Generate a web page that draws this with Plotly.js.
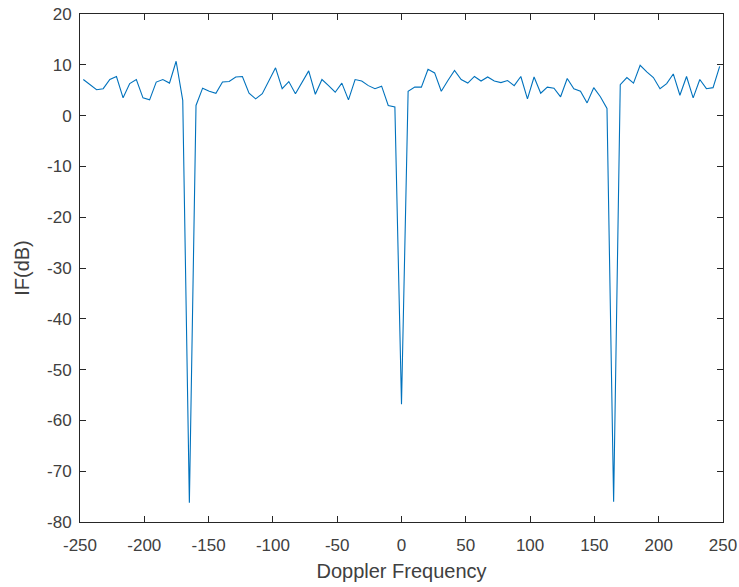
<!DOCTYPE html>
<html>
<head>
<meta charset="utf-8">
<script src="https://cdn.plot.ly/plotly-3.0.1.min.js"></script>
<style>html,body{margin:0;padding:0;background:#fff;}#chart{width:739px;height:587px;}</style>
</head>
<body>
<div id="chart"></div>
<script>
var dopplerFreq = [
  -247.42, -242.27, -237.11, -231.96, -226.80, -221.65, -216.49, -211.34, -206.19, -201.03,
  -195.88, -190.72, -185.57, -180.41, -175.26, -170.10, -164.95, -159.79, -154.64, -149.48,
  -144.33, -139.18, -134.02, -128.87, -123.71, -118.56, -113.40, -108.25, -103.09, -97.94,
  -92.78, -87.63, -82.47, -77.32, -72.16, -67.01, -61.86, -56.70, -51.55, -46.39,
  -41.24, -36.08, -30.93, -25.77, -20.62, -15.46, -10.31, -5.15, 0,
  5.15, 10.31, 15.46, 20.62, 25.77, 30.93, 36.08, 41.24, 46.39, 51.55,
  56.70, 61.86, 67.01, 72.16, 77.32, 82.47, 87.63, 92.78, 97.94, 103.09,
  108.25, 113.40, 118.56, 123.71, 128.87, 134.02, 139.18, 144.33, 149.48, 154.64,
  159.79, 164.95, 170.10, 175.26, 180.41, 185.57, 190.72, 195.88, 201.03, 206.19,
  211.34, 216.49, 221.65, 226.80, 231.96, 237.11, 242.27, 247.42
];
var improvementFactor = [
  7.1, 6.1, 5.1, 5.3, 7.1, 7.7, 3.5, 6.3, 7.1, 3.5,
  3.1, 6.6, 7.1, 6.4, 10.7, 3.0, -76.2, 2.0, 5.4, 4.8,
  4.4, 6.6, 6.7, 7.6, 7.7, 4.4, 3.3, 4.3, 6.8, 9.4,
  5.3, 6.7, 4.3, 6.6, 8.8, 4.2, 7.1, 5.9, 4.6, 6.4,
  3.1, 7.1, 6.8, 5.9, 5.3, 5.8, 2.0, 1.7, -56.8,
  4.8, 5.6, 5.6, 9.1, 8.4, 4.8, 6.9, 8.9, 7.1, 6.4,
  7.7, 6.8, 7.6, 6.8, 6.5, 6.9, 5.9, 7.7, 3.3, 7.6,
  4.4, 5.6, 5.4, 3.7, 7.3, 5.3, 4.8, 2.5, 5.5, 3.7,
  1.4, -76.0, 6.1, 7.5, 6.4, 9.9, 8.6, 7.5, 5.3, 6.3,
  8.2, 4.0, 7.7, 3.5, 7.1, 5.3, 5.5, 9.7
];
var xTickVals = [-250, -200, -150, -100, -50, 0, 50, 100, 150, 200, 250];
var xTickText = ['-250', '-200', '-150', '-100', '-50', '0', '50', '100', '150', '200', '250'];
var yTickVals = [-80, -70, -60, -50, -40, -30, -20, -10, 0, 10, 20];
var yTickText = ['-80', '-70', '-60', '-50', '-40', '-30', '-20', '-10', '0', '10', '20'];
var xTitle = 'Doppler Frequency';
var yTitle = 'IF(dB)';

var axisColor = '#262626';
var textColor = '#404040';
var fontFam = '"Liberation Sans", Arial, Helvetica, sans-serif';

var trace = {
  x: dopplerFreq,
  y: improvementFactor,
  type: 'scatter',
  mode: 'lines',
  line: {color: '#0072BD', width: 1.1},
  hoverinfo: 'x+y'
};

var layout = {
  width: 739,
  height: 587,
  margin: {l: 80, r: 16, t: 14, b: 65, pad: 0},
  paper_bgcolor: '#ffffff',
  plot_bgcolor: '#ffffff',
  showlegend: false,
  font: {family: fontFam, color: axisColor, size: 17},
  xaxis: {
    range: [-250, 250],
    tickmode: 'array',
    tickvals: xTickVals,
    ticktext: xTickText,
    ticks: 'inside',
    ticklen: 6,
    tickwidth: 1,
    tickcolor: axisColor,
    showline: true,
    linecolor: axisColor,
    linewidth: 1,
    mirror: 'ticks',
    showgrid: false,
    zeroline: false,
    tickfont: {family: fontFam, size: 17, color: textColor},
    ticklabelstandoff: 8,
    title: {text: xTitle, font: {family: fontFam, size: 20, color: textColor}, standoff: 9}
  },
  yaxis: {
    range: [-80, 20],
    tickmode: 'array',
    tickvals: yTickVals,
    ticktext: yTickText,
    ticks: 'inside',
    ticklen: 6,
    tickwidth: 1,
    tickcolor: axisColor,
    showline: true,
    linecolor: axisColor,
    linewidth: 1,
    mirror: 'ticks',
    showgrid: false,
    zeroline: false,
    tickfont: {family: fontFam, size: 17, color: textColor},
    ticklabelstandoff: 4,
    title: {text: yTitle, font: {family: fontFam, size: 20, color: textColor}, standoff: 12}
  }
};

Plotly.newPlot('chart', [trace], layout, {displayModeBar: false, staticPlot: true});
</script>
</body>
</html>
